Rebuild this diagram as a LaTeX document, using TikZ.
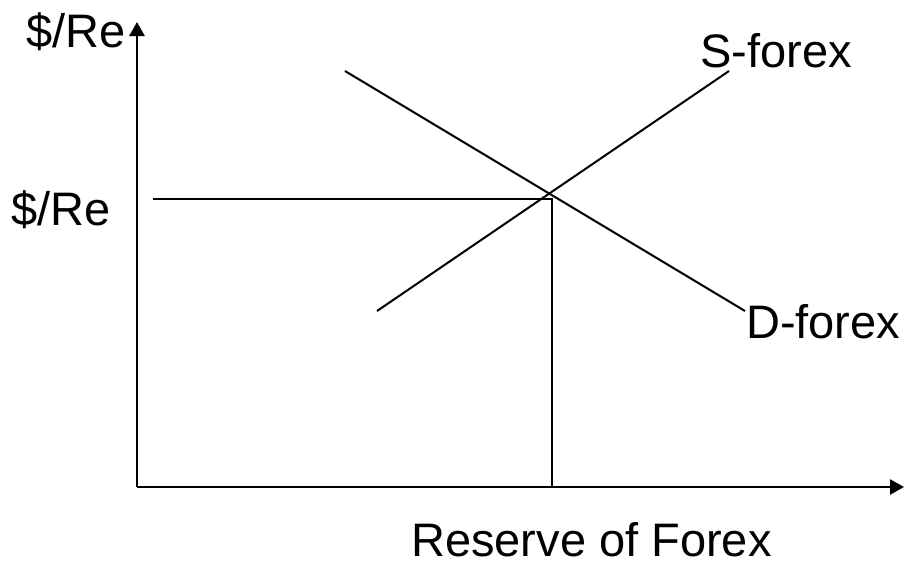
\documentclass[tikz,border=0pt]{standalone}
\usepackage{fontspec}
\setmainfont{Liberation Sans}
\usetikzlibrary{arrows.meta}
\begin{document}
\begin{tikzpicture}[x=1pt,y=-1pt,
  axis/.style={line width=2.6pt,-{Triangle[length=14pt,width=15pt]}},
  curve/.style={line width=2pt},
  guide/.style={line width=2.4pt},
  lbl/.style={anchor=base west,inner sep=0pt,font=\fontsize{47}{56}\selectfont}]
\useasboundingbox (0,0) rectangle (908,566);
\coordinate (O) at (137,487);
\coordinate (Ytop) at (137,22);
\coordinate (Xend) at (904,487);
\coordinate (Hs) at (153,199);
\coordinate (E) at (552,199);
\coordinate (Eb) at (552,487);
\coordinate (D1) at (345,71);
\coordinate (D2) at (745,311);
\coordinate (S1) at (377,311);
\coordinate (S2) at (729,71);
\draw[axis] (O) -- (Ytop);
\draw[axis] (O) -- (Xend);
\draw[guide] (Hs) -- (E) -- (Eb);
\draw[curve] (D1) -- (D2);
\draw[curve] (S1) -- (S2);
\node[lbl] (ylab) at (26,47) {\$/Re};
\node[lbl] (pe) at (11,225) {\$/Re};
\node[lbl] (sl) at (700,67) {S-forex};
\node[lbl] (dl) at (746,338) {D-forex};
\node[lbl,text depth=0pt] (xl) at (411,556) {Reserve of Forex};
\end{tikzpicture}
\end{document}
